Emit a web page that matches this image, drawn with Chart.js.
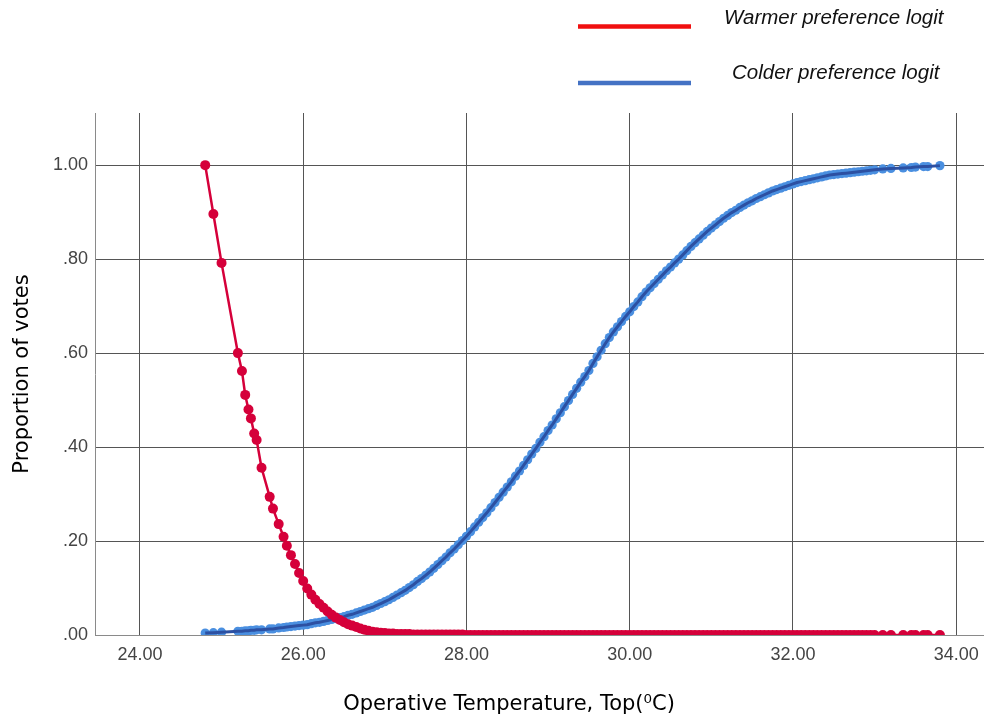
<!DOCTYPE html>
<html>
<head>
<meta charset="utf-8">
<script src="https://cdn.jsdelivr.net/npm/chart.js@4.4.1/dist/chart.umd.min.js"></script>
<style>
html,body{margin:0;padding:0;background:#ffffff;}
#wrap{width:984px;height:721px;position:relative;}
canvas{display:block;}
</style>
</head>
<body>
<div id="wrap"><canvas id="c" width="984" height="721"></canvas></div>
<script>
// ---- data ----
const temperatures = [
  24.80, 24.90, 25.00, 25.20, 25.25, 25.29, 25.33, 25.36, 25.40, 25.43,
  25.49, 25.59, 25.63, 25.70, 25.76, 25.80, 25.85, 25.90, 25.95, 26.00,
  26.05, 26.10, 26.15, 26.20, 26.25, 26.30, 26.35, 26.40, 26.45, 26.50,
  26.55, 26.60, 26.65, 26.70, 26.75, 26.80, 26.85, 26.90, 26.95, 27.00,
  27.05, 27.10, 27.15, 27.20, 27.25, 27.30, 27.35, 27.40, 27.45, 27.50,
  27.55, 27.60, 27.65, 27.70, 27.75, 27.80, 27.85, 27.90, 27.95, 28.00,
  28.05, 28.10, 28.15, 28.20, 28.25, 28.30, 28.35, 28.40, 28.45, 28.50,
  28.55, 28.60, 28.65, 28.70, 28.75, 28.80, 28.85, 28.90, 28.95, 29.00,
  29.05, 29.10, 29.15, 29.20, 29.25, 29.30, 29.35, 29.40, 29.45, 29.50,
  29.55, 29.60, 29.65, 29.70, 29.75, 29.80, 29.85, 29.90, 29.95, 30.00,
  30.05, 30.10, 30.15, 30.20, 30.25, 30.30, 30.35, 30.40, 30.45, 30.50,
  30.55, 30.60, 30.65, 30.70, 30.75, 30.80, 30.85, 30.90, 30.95, 31.00,
  31.05, 31.10, 31.15, 31.20, 31.25, 31.30, 31.35, 31.40, 31.45, 31.50,
  31.55, 31.60, 31.65, 31.70, 31.75, 31.80, 31.85, 31.90, 31.95, 32.00,
  32.05, 32.10, 32.15, 32.20, 32.25, 32.30, 32.35, 32.40, 32.45, 32.50,
  32.55, 32.60, 32.65, 32.70, 32.75, 32.80, 32.85, 32.90, 32.95, 33.00,
  33.10, 33.20, 33.35, 33.45, 33.50, 33.60, 33.65, 33.80
];
const warmerLogit = [
  1.000, 0.896, 0.792, 0.600, 0.562, 0.511, 0.480, 0.461, 0.429, 0.415,
  0.356, 0.294, 0.269, 0.236, 0.209, 0.190, 0.170, 0.151, 0.132, 0.115,
  0.099, 0.086, 0.075, 0.066, 0.058, 0.050, 0.043, 0.037, 0.032, 0.027,
  0.023, 0.020, 0.017, 0.014, 0.011, 0.009, 0.007, 0.006, 0.005, 0.004,
  0.003, 0.003, 0.002, 0.002, 0.002, 0.002, 0.001, 0.001, 0.001, 0.001,
  0.001, 0.001, 0.001, 0.001, 0.001, 0.001, 0.001, 0.001, 0.001, 0.000,
  0.000, 0.000, 0.000, 0.000, 0.000, 0.000, 0.000, 0.000, 0.000, 0.000,
  0.000, 0.000, 0.000, 0.000, 0.000, 0.000, 0.000, 0.000, 0.000, 0.000,
  0.000, 0.000, 0.000, 0.000, 0.000, 0.000, 0.000, 0.000, 0.000, 0.000,
  0.000, 0.000, 0.000, 0.000, 0.000, 0.000, 0.000, 0.000, 0.000, 0.000,
  0.000, 0.000, 0.000, 0.000, 0.000, 0.000, 0.000, 0.000, 0.000, 0.000,
  0.000, 0.000, 0.000, 0.000, 0.000, 0.000, 0.000, 0.000, 0.000, 0.000,
  0.000, 0.000, 0.000, 0.000, 0.000, 0.000, 0.000, 0.000, 0.000, 0.000,
  0.000, 0.000, 0.000, 0.000, 0.000, 0.000, 0.000, 0.000, 0.000, 0.000,
  0.000, 0.000, 0.000, 0.000, 0.000, 0.000, 0.000, 0.000, 0.000, 0.000,
  0.000, 0.000, 0.000, 0.000, 0.000, 0.000, 0.000, 0.000, 0.000, 0.000,
  0.000, 0.000, 0.000, 0.000, 0.000, 0.000, 0.000, 0.000
];
const colderLogit = [
  0.004, 0.005, 0.006, 0.008, 0.008, 0.009, 0.009, 0.010, 0.010, 0.011,
  0.011, 0.013, 0.013, 0.015, 0.016, 0.017, 0.018, 0.019, 0.020, 0.021,
  0.022, 0.024, 0.026, 0.027, 0.029, 0.031, 0.033, 0.035, 0.037, 0.039,
  0.042, 0.044, 0.047, 0.050, 0.053, 0.056, 0.059, 0.063, 0.067, 0.071,
  0.075, 0.080, 0.085, 0.090, 0.095, 0.101, 0.107, 0.114, 0.120, 0.127,
  0.134, 0.142, 0.150, 0.158, 0.166, 0.175, 0.183, 0.192, 0.201, 0.210,
  0.220, 0.230, 0.240, 0.250, 0.260, 0.271, 0.282, 0.293, 0.304, 0.315,
  0.326, 0.338, 0.349, 0.361, 0.373, 0.385, 0.397, 0.410, 0.422, 0.435,
  0.447, 0.460, 0.473, 0.486, 0.499, 0.512, 0.525, 0.538, 0.550, 0.563,
  0.578, 0.592, 0.606, 0.620, 0.633, 0.645, 0.656, 0.667, 0.678, 0.688,
  0.699, 0.709, 0.720, 0.730, 0.739, 0.748, 0.757, 0.766, 0.775, 0.783,
  0.792, 0.800, 0.809, 0.818, 0.827, 0.835, 0.843, 0.851, 0.859, 0.866,
  0.873, 0.880, 0.887, 0.893, 0.899, 0.904, 0.910, 0.915, 0.920, 0.924,
  0.929, 0.933, 0.937, 0.941, 0.945, 0.948, 0.951, 0.954, 0.957, 0.960,
  0.963, 0.965, 0.967, 0.969, 0.971, 0.973, 0.975, 0.977, 0.979, 0.980,
  0.981, 0.982, 0.983, 0.984, 0.985, 0.986, 0.987, 0.988, 0.989, 0.990,
  0.992, 0.993, 0.994, 0.995, 0.996, 0.997, 0.997, 0.999
];
const xTickValues = [24, 26, 28, 30, 32, 34];
const xTickLabels = ['24.00', '26.00', '28.00', '30.00', '32.00', '34.00'];
const yTickValues = [0, 0.2, 0.4, 0.6, 0.8, 1.0];
const yTickLabels = ['.00', '.20', '.40', '.60', '.80', '1.00'];
const seriesNames = ['Warmer preference logit', 'Colder preference logit'];
const xAxisTitle = 'Operative Temperature, Top(\u2070C)';
const yAxisTitle = 'Proportion of votes';

// ---- styles ----
const RED = '#d5003a';
const BLUE_POINT = '#4a8fe0';
const BLUE_LINE = '#2c50a2';
const LEGEND_RED = '#f01010';
const LEGEND_BLUE = '#4472c4';
const GRID = '#555555';
const AXIS = '#8a8a8a';
const TICK_FONT = {family: '"Liberation Sans", Arial, sans-serif', size: 18};

function labelFor(values, labels, v) {
  for (let i = 0; i < values.length; i++) {
    if (Math.abs(values[i] - v) < 1e-6) return labels[i];
  }
  return '';
}

const warmerPoints = temperatures.map((t, i) => ({x: t, y: warmerLogit[i]}));
const colderPoints = temperatures.map((t, i) => ({x: t, y: colderLogit[i]}));

const overlayPlugin = {
  id: 'overlay',
  afterDraw(chart) {
    const ctx = chart.ctx;
    ctx.save();
    // legend
    ctx.lineWidth = 4.5;
    ctx.lineCap = 'butt';
    ctx.strokeStyle = LEGEND_RED;
    ctx.beginPath(); ctx.moveTo(578, 26.5); ctx.lineTo(691, 26.5); ctx.stroke();
    ctx.strokeStyle = LEGEND_BLUE;
    ctx.beginPath(); ctx.moveTo(578, 83); ctx.lineTo(691, 83); ctx.stroke();
    ctx.fillStyle = '#111111';
    ctx.font = 'italic 20.5px "Liberation Sans", Arial, sans-serif';
    ctx.textAlign = 'left';
    ctx.textBaseline = 'alphabetic';
    ctx.fillText(seriesNames[0], 724, 24);
    ctx.fillText(seriesNames[1], 732, 79);
    // x axis title
    ctx.fillStyle = '#000000';
    ctx.font = '21px "DejaVu Sans", sans-serif';
    ctx.textAlign = 'center';
    ctx.textBaseline = 'middle';
    ctx.fillText(xAxisTitle, 509, 705);
    ctx.restore();
  }
};

new Chart(document.getElementById('c'), {
  type: 'scatter',
  data: {
    datasets: [
      {
        label: seriesNames[0],
        data: warmerPoints,
        showLine: true,
        borderColor: RED,
        backgroundColor: RED,
        borderWidth: 2.5,
        pointRadius: 5,
        pointBorderWidth: 0,
        pointBackgroundColor: RED,
        order: 0
      },
      {
        label: seriesNames[1],
        data: colderPoints,
        showLine: true,
        borderColor: BLUE_LINE,
        borderWidth: 3,
        pointRadius: 0,
        order: 1
      },
      {
        label: seriesNames[1] + ' points',
        data: colderPoints,
        showLine: false,
        backgroundColor: BLUE_POINT,
        pointBackgroundColor: BLUE_POINT,
        pointRadius: 4.6,
        pointBorderWidth: 0,
        order: 2
      }
    ]
  },
  options: {
    responsive: false,
    devicePixelRatio: 1,
    animation: false,
    events: [],
    layout: {autoPadding: false, padding: {top: 113, left: 0, right: 0, bottom: 0}},
    plugins: {
      legend: {display: false},
      tooltip: {enabled: false}
    },
    scales: {
      x: {
        type: 'linear',
        min: 23.45,
        max: 34.34,
        afterBuildTicks(scale) { scale.ticks = xTickValues.map(v => ({value: v})); },
        afterFit(scale) { scale.height = 86; scale.paddingLeft = 0; scale.paddingRight = 0; },
        ticks: {
          callback: v => labelFor(xTickValues, xTickLabels, v),
          font: TICK_FONT,
          color: '#444444',
          padding: 9,
          maxRotation: 0,
          autoSkip: false
        },
        grid: {color: GRID, lineWidth: 1, drawTicks: false},
        border: {color: AXIS, width: 1},
        title: {display: false}
      },
      y: {
        type: 'linear',
        min: 0,
        max: 1.111,
        afterBuildTicks(scale) { scale.ticks = yTickValues.map(v => ({value: v})); },
        afterFit(scale) { scale.width = 95; scale.paddingTop = 0; scale.paddingBottom = 0; },
        ticks: {
          callback: v => labelFor(yTickValues, yTickLabels, v),
          font: TICK_FONT,
          color: '#444444',
          padding: 7
        },
        grid: {color: GRID, lineWidth: 1, drawTicks: false},
        border: {color: AXIS, width: 1},
        title: {
          display: true,
          text: yAxisTitle,
          color: '#000000',
          font: {family: '"DejaVu Sans", sans-serif', size: 21},
          padding: {top: 10, bottom: 0}
        }
      }
    }
  },
  plugins: [overlayPlugin]
});
</script>
</body>
</html>
